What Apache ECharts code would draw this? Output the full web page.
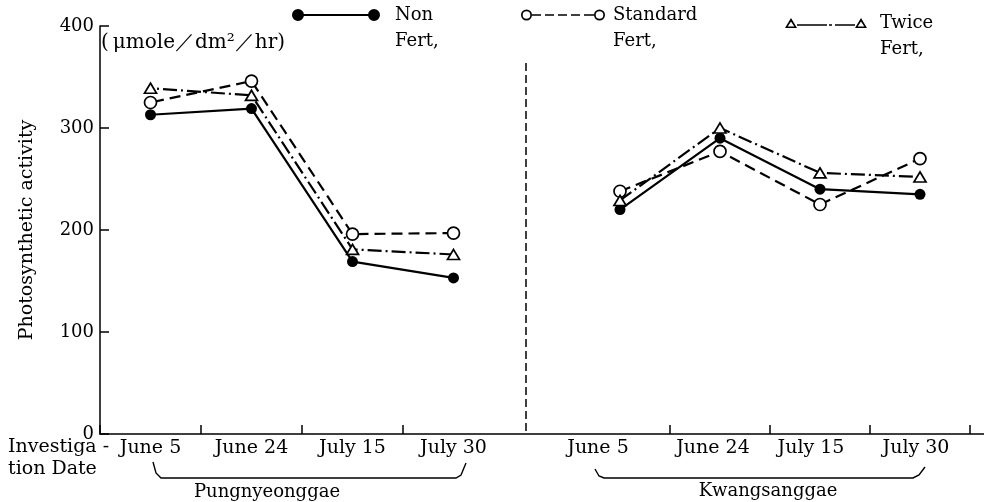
<!DOCTYPE html>
<html><head><meta charset="utf-8">
<script src="https://cdn.jsdelivr.net/npm/echarts@6/dist/echarts.min.js"></script>
<style>html,body{margin:0;padding:0;background:#fff}#c{width:984px;height:502px}</style>
</head><body><div id="c"></div>
<script>
const categories = ['June 5', 'June 24', 'July 15', 'July 30'];
const seriesNames = ['Non Fert,', 'Standard Fert,', 'Twice Fert,'];
const pungNon = [313, 319, 169, 153];
const pungStd = [325, 346, 196, 197];
const pungTwice = [339, 332, 181, 176];
const kwangNon = [220, 290, 240, 235];
const kwangStd = [238, 277, 225, 270];
const kwangTwice = [229, 300, 256, 252];
const siteNames = ['Pungnyeonggae', 'Kwangsanggae'];
const unitLabel = '(\u2009\u03bcmole\uff0fdm\u00b2\uff0fhr)';
const yName = 'Photosynthetic activity';
const xNameLines = ['Investiga -', 'tion Date'];

const FONT = 'DejaVu Serif';
const FS = 18;
const BLACK = '#000';
// label nudges (right padding, px) for the second panel's date labels
const rightLabelPad = [44, 14, 18, 8];

const rev = function (a) { return a.slice().reverse(); };

const iconNon = 'path://M0,6A6,6,0,1,1,12,6A6,6,0,1,1,0,6ZM76,6A6,6,0,1,1,88,6A6,6,0,1,1,76,6ZM6,5H82V7H6Z';
const iconStd = 'path://M0,5.5A5.5,5.5,0,1,1,11,5.5A5.5,5.5,0,1,1,0,5.5ZM1.7,5.5A3.8,3.8,0,1,0,9.3,5.5A3.8,3.8,0,1,0,1.7,5.5Z' +
  'M73,5.5A5.5,5.5,0,1,1,84,5.5A5.5,5.5,0,1,1,73,5.5ZM74.7,5.5A3.8,3.8,0,1,0,82.3,5.5A3.8,3.8,0,1,0,74.7,5.5Z' +
  'M11,4.7H20V6.3H11ZM24,4.7H33V6.3H24ZM37,4.7H46V6.3H37ZM50,4.7H59V6.3H50ZM63,4.7H73V6.3H63Z';
const iconTwice = 'path://M6,0L12,10L0,10ZM6,3.4L2.7,8.4L9.3,8.4Z' +
  'M76,0L82,10L70,10ZM76,3.4L72.7,8.4L79.3,8.4Z' +
  'M12,6.2H42V7.8H12ZM44,6.2H47V7.8H44ZM50,6.2H70V7.8H50Z';

function legendFor(name, left, top, icon, w, h, padLeft) {
  return {
    data: [name], left: left, top: top, padding: 0, itemWidth: w, itemHeight: h, icon: icon,
    selectedMode: false,
    itemStyle: { color: BLACK, borderWidth: 0 },
    formatter: function (n) { return '\n' + n.replace(' ', '\n'); },
    textStyle: { fontFamily: FONT, fontSize: FS, color: BLACK, lineHeight: 26, padding: [0, 0, 0, padLeft] }
  };
}

const styles = [
  { symbol: 'circle', symbolSize: 11, itemStyle: { color: BLACK }, lineStyle: { color: BLACK, width: 2.2, type: 'solid' } },
  { symbol: 'circle', symbolSize: 12, itemStyle: { color: '#fff', borderColor: BLACK, borderWidth: 1.7 }, lineStyle: { color: BLACK, width: 2.2, type: [11, 6] } },
  { symbol: 'triangle', symbolSize: [12, 10], itemStyle: { color: '#fff', borderColor: BLACK, borderWidth: 1.7 }, lineStyle: { color: BLACK, width: 2.2, type: [14, 4, 2, 4] } }
];

// left panel uses an inverted axis with reversed arrays (same visual order) so no tick lands on the panel's right edge
function mk(nameIdx, data, axisIdx) {
  return Object.assign({
    type: 'line', name: seriesNames[nameIdx], data: axisIdx === 0 ? rev(data) : data,
    xAxisIndex: axisIdx, yAxisIndex: axisIdx, z: 3 + nameIdx
  }, styles[nameIdx]);
}

function catAxis(g) {
  const ax = {
    gridIndex: g, type: 'category', data: g === 0 ? rev(categories) : categories, boundaryGap: true,
    inverse: g === 0,
    axisLine: { show: false },
    axisTick: { show: true, inside: true, length: 9, interval: function (i) { return i > 0; }, lineStyle: { color: BLACK, width: 1.5 } },
    axisLabel: { interval: 0, color: BLACK, fontFamily: FONT, fontSize: 19, margin: 5 },
    splitLine: { show: false }
  };
  if (g === 1) {
    const rich = {};
    rightLabelPad.forEach(function (p, i) {
      rich['s' + i] = { fontFamily: FONT, fontSize: 19, color: BLACK, padding: [0, p, 0, 0] };
    });
    ax.axisLabel.rich = rich;
    ax.axisLabel.formatter = function (v, i) { return '{s' + i + '|' + v + '}'; };
  }
  return ax;
}

const txt = function (s, size) { return { text: s, font: size + 'px "' + FONT + '"', fill: BLACK }; };

const chart = echarts.init(document.getElementById('c'), null, { renderer: 'canvas' });
chart.setOption({
  animation: false,
  backgroundColor: '#fff',
  grid: [
    { left: 100, top: 26, width: 404, height: 408 },
    { left: 570, top: 26, width: 400, height: 408 },
    { left: 100, top: 26, right: 0, height: 408 }
  ],
  legend: [
    legendFor(seriesNames[0], 292, -24, iconNon, 88, 12, 10),
    legendFor(seriesNames[1], 521, -24, iconStd, 84, 11, 3),
    legendFor(seriesNames[2], 785, -16, iconTwice, 82, 10, 8)
  ],
  xAxis: [
    catAxis(0),
    catAxis(1),
    { gridIndex: 2, type: 'value', min: 0, max: 1, axisLine: { show: true, lineStyle: { color: BLACK, width: 1.5 } },
      axisTick: { show: false }, axisLabel: { show: false }, splitLine: { show: false } }
  ],
  yAxis: [
    { gridIndex: 0, type: 'value', min: 0, max: 400, interval: 100,
      name: yName, nameLocation: 'middle', nameGap: 63,
      nameTextStyle: { fontFamily: FONT, fontSize: 19, color: BLACK },
      axisLine: { show: true, lineStyle: { color: BLACK, width: 1.5 } },
      axisTick: { show: true, inside: true, length: 9, lineStyle: { color: BLACK, width: 1.5 } },
      axisLabel: { color: BLACK, fontFamily: FONT, fontSize: 18, margin: 6 },
      splitLine: { show: false } },
    { gridIndex: 1, type: 'value', min: 0, max: 400, interval: 100, show: false },
    { gridIndex: 2, type: 'value', min: 0, max: 1, show: false }
  ],
  series: [
    mk(0, pungNon, 0), mk(1, pungStd, 0), mk(2, pungTwice, 0),
    mk(0, kwangNon, 1), mk(1, kwangStd, 1), mk(2, kwangTwice, 1)
  ],
  graphic: [
    { type: 'text', x: 101, y: 43, style: Object.assign(txt(unitLabel, 20), { verticalAlign: 'middle' }) },
    { type: 'line', shape: { x1: 526, y1: 63, x2: 526, y2: 434 }, style: { stroke: BLACK, lineWidth: 1.5, lineDash: [8, 4] } },
    { type: 'polyline', shape: { points: [[153, 462], [156, 473], [161, 478], [456, 478], [461, 475], [466, 463]] }, style: { stroke: BLACK, lineWidth: 1.4, fill: null } },
    { type: 'polyline', shape: { points: [[595, 469], [599, 476], [604, 478], [913, 478], [919, 475], [925, 467]] }, style: { stroke: BLACK, lineWidth: 1.4, fill: null } },
    { type: 'text', x: 267, y: 492, style: Object.assign(txt(siteNames[0], 18), { align: 'center', verticalAlign: 'middle' }) },
    { type: 'text', x: 768, y: 491, style: Object.assign(txt(siteNames[1], 18), { align: 'center', verticalAlign: 'middle' }) },
    { type: 'text', x: 8, y: 447, style: Object.assign(txt(xNameLines[0], 19), { verticalAlign: 'middle' }) },
    { type: 'text', x: 8, y: 469, style: Object.assign(txt(xNameLines[1], 19), { verticalAlign: 'middle' }) }
  ]
});
</script>
</body></html>
